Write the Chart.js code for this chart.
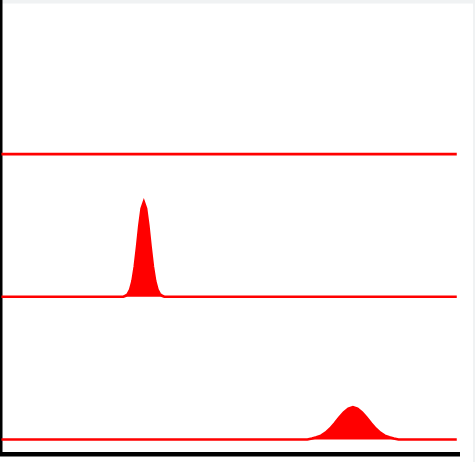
<!DOCTYPE html>
<html>
<head>
<meta charset="utf-8">
<style>
  html, body { margin: 0; padding: 0; background: #ffffff; }
  #wrap { width: 475px; height: 462px; }
</style>
<script src="https://cdn.jsdelivr.net/npm/chart.js@4/dist/chart.umd.min.js"></script>
</head>
<body>
<div id="wrap"><canvas id="ridge" width="475" height="462"></canvas></div>
<script>
// Ridgeline rows, bottom to top; each row sits on its own baseline
const groups = ['C', 'B', 'A'];
const baselines = [0, 1, 2];

// x-range shared by all rows
const xStart = 0;
const xEnd = 100;

// Row A: no density mass inside the range
const rowA_x = [xStart, xEnd];
const rowA_density = [0, 0];

// Row B: narrow peak
const rowB_x = [xStart, 26.8, 27.3, 27.8, 28.3, 28.8, 29.3, 29.8, 30.3, 30.8, 31.3, 31.8, 32.3, 32.8, 33.3, 33.8, 34.3, 34.8, 35.3, 35.8, xEnd];
const rowB_density = [0, 0, 0.007, 0.020, 0.050, 0.110, 0.211, 0.348, 0.498, 0.618, 0.664, 0.618, 0.498, 0.348, 0.211, 0.110, 0.050, 0.020, 0.007, 0, 0];

// Row C: wide, low peak
const rowC_x = [xStart, 67.2, 68.2, 69.2, 70.2, 71.2, 72.2, 73.2, 74.2, 75.2, 76.2, 77.2, 78.2, 79.2, 80.2, 81.2, 82.2, 83.2, 84.2, 85.2, 86.2, 87.2, xEnd];
const rowC_density = [0, 0, 0.007, 0.015, 0.027, 0.048, 0.077, 0.113, 0.153, 0.190, 0.216, 0.226, 0.216, 0.190, 0.153, 0.113, 0.077, 0.048, 0.027, 0.015, 0.007, 0, 0];

const rows = [
  { xs: rowC_x, ys: rowC_density },
  { xs: rowB_x, ys: rowB_density },
  { xs: rowA_x, ys: rowA_density }
];

const datasets = rows.map((r, i) => ({
  label: groups[i],
  data: r.xs.map((x, k) => ({ x: x, y: baselines[i] + r.ys[k] })),
  borderColor: '#ff0000',
  backgroundColor: '#ff0000',
  borderWidth: 2.6,
  pointRadius: 0,
  tension: 0,
  fill: { value: baselines[i] }
}));

// page backdrop: white panel with a pale strip along the top and right edges
const backdrop = {
  id: 'backdrop',
  beforeDraw(chart) {
    const c = chart.ctx;
    c.save();
    c.fillStyle = '#ffffff';
    c.fillRect(0, 0, chart.width, chart.height);
    c.fillStyle = '#f0f2f3';
    c.fillRect(0, 0, chart.width, 3.5);
    c.fillRect(chart.width - 2, 0, 2, chart.height);
    c.restore();
  }
};

new Chart(document.getElementById('ridge'), {
  type: 'line',
  data: { datasets: datasets },
  plugins: [backdrop],
  options: {
    responsive: false,
    animation: false,
    layout: { padding: { left: 1.25, right: 15.5, top: 0, bottom: 8.25 } },
    plugins: { legend: { display: false }, tooltip: { enabled: false } },
    scales: {
      x: {
        type: 'linear',
        min: 0,
        max: 100.6,
        ticks: { display: false },
        grid: { display: false, drawTicks: false },
        border: { display: true, color: '#000000', width: 4.5 }
      },
      y: {
        type: 'linear',
        min: -0.1,
        max: 3.08,
        ticks: { display: false },
        grid: { display: false, drawTicks: false },
        border: { display: true, color: '#000000', width: 2.5 }
      }
    }
  }
});
</script>
</body>
</html>
